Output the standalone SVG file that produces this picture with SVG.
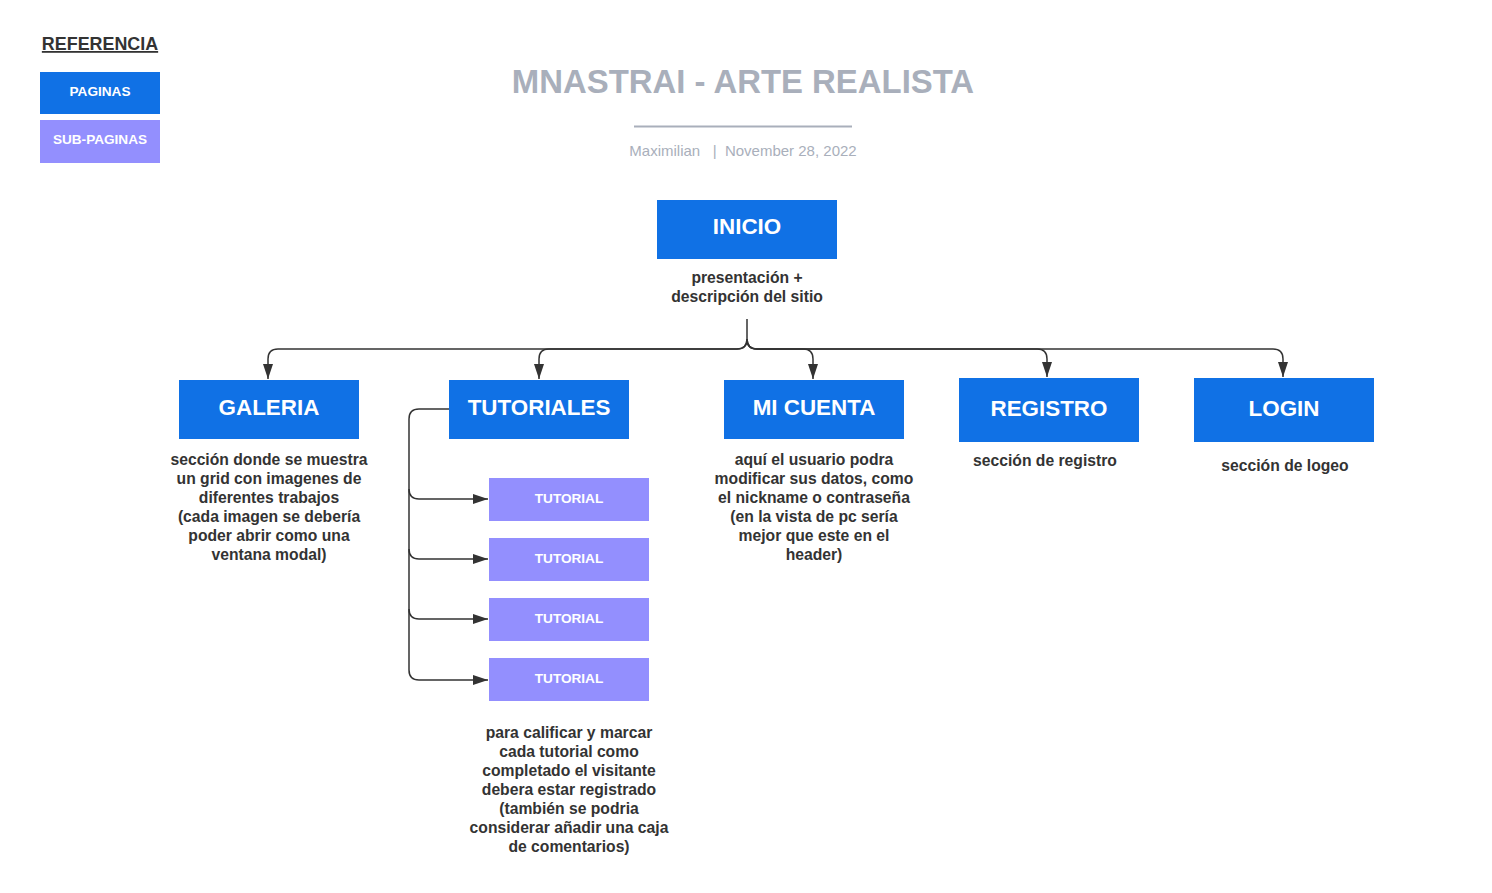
<svg xmlns="http://www.w3.org/2000/svg" width="1492" height="893" viewBox="0 0 1492 893">
<style>
.pg{fill:#1071E5}
.sp{fill:#938FFE}
.nt{font-family:"Liberation Sans",Arial,sans-serif;font-weight:bold;fill:#fff;text-anchor:middle}
.big{font-size:22.4px}
.sm{font-size:13.6px}
.desc{font-family:"Liberation Sans",Arial,sans-serif;font-weight:bold;font-size:15.7px;fill:#333;text-anchor:middle}
.con{fill:none;stroke:#333;stroke-width:1.5}
</style>
<defs>
<marker id="ah" viewBox="0 0 15 10" refX="15" refY="5" markerWidth="15" markerHeight="10" markerUnits="userSpaceOnUse" orient="auto">
<path d="M0,0 L15,5 L0,10 Z" fill="#333"/>
</marker>
</defs>
<rect width="1492" height="893" fill="#fff"/>
<g id="legend">
<text x="100" y="50" font-family="Liberation Sans,Arial,sans-serif" font-weight="bold" font-size="17.9" fill="#333" text-anchor="middle" text-decoration="underline">REFERENCIA</text>
<rect class="pg" x="40" y="72" width="120" height="42"/>
<text class="nt sm" x="100" y="96">PAGINAS</text>
<rect class="sp" x="40" y="120" width="120" height="43"/>
<text class="nt sm" x="100" y="144">SUB-PAGINAS</text>
</g>
<g id="title">
<text x="743" y="93" font-family="Liberation Sans,Arial,sans-serif" font-weight="bold" font-size="32.9" fill="#A9AFBB" text-anchor="middle">MNASTRAI - ARTE REALISTA</text>
<line x1="634" y1="126.5" x2="852" y2="126.5" stroke="#A9AFBB" stroke-width="2"/>
<text x="743" y="156" font-family="Liberation Sans,Arial,sans-serif" font-size="15" fill="#A9AFBB" text-anchor="middle" xml:space="preserve">Maximilian   |  November 28, 2022</text>
</g>
<g id="connectors">
<path class="con" d="M747,319 V339 Q747,349 737,349 H278 Q268,349 268,359 V379" marker-end="url(#ah)"/>
<path class="con" d="M747,339 Q747,349 737,349 H549 Q539,349 539,359 V379" marker-end="url(#ah)"/>
<path class="con" d="M747,339 Q747,349 757,349 H803 Q813,349 813,359 V379" marker-end="url(#ah)"/>
<path class="con" d="M747,339 Q747,349 757,349 H1037 Q1047,349 1047,359 V377" marker-end="url(#ah)"/>
<path class="con" d="M747,339 Q747,349 757,349 H1273 Q1283,349 1283,359 V377" marker-end="url(#ah)"/>
<path class="con" d="M449,409 H419 Q409,409 409,419 V489 Q409,499 419,499 H488" marker-end="url(#ah)"/>
<path class="con" d="M409,489 V549 Q409,559 419,559 H488" marker-end="url(#ah)"/>
<path class="con" d="M409,549 V609 Q409,619 419,619 H488" marker-end="url(#ah)"/>
<path class="con" d="M409,609 V670 Q409,680 419,680 H488" marker-end="url(#ah)"/>
</g>
<g id="inicio">
<rect class="pg" x="657" y="200" width="180" height="59"/>
<text class="nt big" x="747" y="234">INICIO</text>
<text class="desc" x="747" y="283">presentación +</text>
<text class="desc" x="747" y="302">descripción del sitio</text>
</g>
<g id="galeria">
<rect class="pg" x="179" y="380" width="180" height="59"/>
<text class="nt big" x="269" y="415">GALERIA</text>
<text class="desc" x="269" y="465">sección donde se muestra</text>
<text class="desc" x="269" y="484">un grid con imagenes de</text>
<text class="desc" x="269" y="503">diferentes trabajos</text>
<text class="desc" x="269" y="522">(cada imagen se debería</text>
<text class="desc" x="269" y="541">poder abrir como una</text>
<text class="desc" x="269" y="560">ventana modal)</text>
</g>
<g id="tutoriales">
<rect class="pg" x="449" y="380" width="180" height="59"/>
<text class="nt big" x="539" y="415">TUTORIALES</text>
</g>
<g id="tutorial1">
<rect class="sp" x="489" y="478" width="160" height="43"/>
<text class="nt sm" x="569" y="503">TUTORIAL</text>
</g>
<g id="tutorial2">
<rect class="sp" x="489" y="538" width="160" height="43"/>
<text class="nt sm" x="569" y="563">TUTORIAL</text>
</g>
<g id="tutorial3">
<rect class="sp" x="489" y="598" width="160" height="43"/>
<text class="nt sm" x="569" y="623">TUTORIAL</text>
</g>
<g id="tutorial4">
<rect class="sp" x="489" y="658" width="160" height="43"/>
<text class="nt sm" x="569" y="683">TUTORIAL</text>
<text class="desc" x="569" y="738">para calificar y marcar</text>
<text class="desc" x="569" y="757">cada tutorial como</text>
<text class="desc" x="569" y="776">completado el visitante</text>
<text class="desc" x="569" y="795">debera estar registrado</text>
<text class="desc" x="569" y="814">(también se podria</text>
<text class="desc" x="569" y="833">considerar añadir una caja</text>
<text class="desc" x="569" y="852">de comentarios)</text>
</g>
<g id="micuenta">
<rect class="pg" x="724" y="380" width="180" height="59"/>
<text class="nt big" x="814" y="415">MI CUENTA</text>
<text class="desc" x="814" y="465">aquí el usuario podra</text>
<text class="desc" x="814" y="484">modificar sus datos, como</text>
<text class="desc" x="814" y="503">el nickname o contraseña</text>
<text class="desc" x="814" y="522">(en la vista de pc sería</text>
<text class="desc" x="814" y="541">mejor que este en el</text>
<text class="desc" x="814" y="560">header)</text>
</g>
<g id="registro">
<rect class="pg" x="959" y="378" width="180" height="64"/>
<text class="nt big" x="1049" y="416">REGISTRO</text>
<text class="desc" x="1045" y="466">sección de registro</text>
</g>
<g id="login">
<rect class="pg" x="1194" y="378" width="180" height="64"/>
<text class="nt big" x="1284" y="416">LOGIN</text>
<text class="desc" x="1285" y="471">sección de logeo</text>
</g>
</svg>
